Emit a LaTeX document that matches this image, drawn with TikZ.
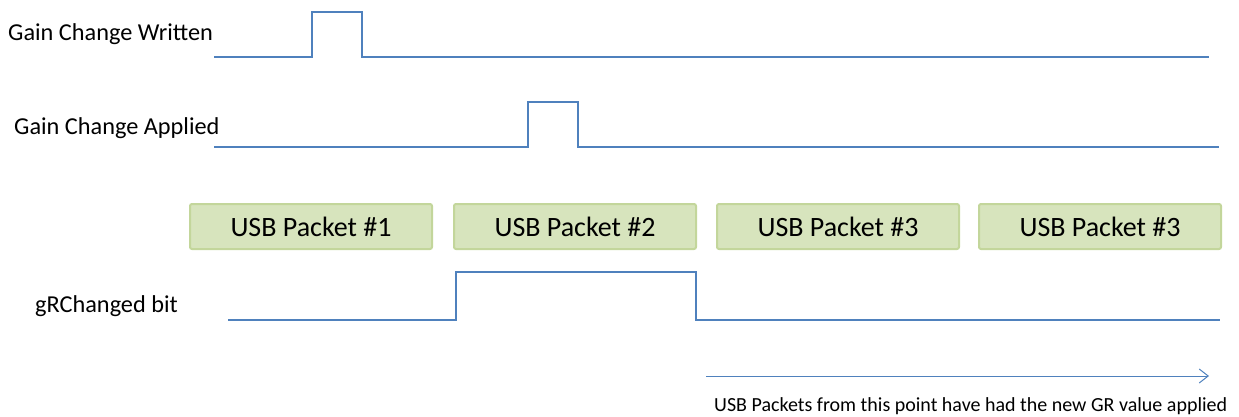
\documentclass[tikz,border=0pt]{standalone}
\usepackage{fontspec}
\setmainfont{Carlito}
\usetikzlibrary{arrows.meta}
\definecolor{sig}{HTML}{4F81BD}
\definecolor{pkfill}{HTML}{D7E4BD}
\definecolor{pkdraw}{HTML}{C3D69B}
\tikzset{
  signal/.style={draw=sig, line width=1.3pt},
  lbl/.style={anchor=west, inner sep=0pt, font=\fontsize{24.3}{28}\selectfont},
  packet/.style={fill=pkfill, draw=pkdraw, line width=2pt, rounded corners=2pt, minimum width=242pt, minimum height=45pt, inner sep=0pt, font=\fontsize{28}{32}\selectfont},
  note/.style={anchor=west, inner sep=0pt, font=\fontsize{20}{24}\selectfont}
}
\begin{document}
\begin{tikzpicture}[x=1pt,y=-1pt]
\useasboundingbox (0,0) rectangle (1239,417);
% labels
\node[lbl] (lw) at (8,34) {Gain Change Written};
\node[lbl] (la) at (14,128) {Gain Change Applied};
\node[lbl] (lg) at (35,306) {gRChanged bit};
% signal 1
\coordinate (w0) at (214,57);
\coordinate (w1) at (1209,57);
\draw[signal] (w0) -- (312,57) -- (312,12) -- (362,12) -- (362,57) -- (w1);
% signal 2
\coordinate (a0) at (214,147);
\coordinate (a1) at (1219,147);
\draw[signal] (a0) -- (528,147) -- (528,102) -- (578,102) -- (578,147) -- (a1);
% packets
\node[packet] (p1) at (311,226.5) {USB Packet \#1};
\node[packet] (p2) at (575,226.5) {USB Packet \#2};
\node[packet] (p3) at (838,226.5) {USB Packet \#3};
\node[packet] (p4) at (1100,226.5) {USB Packet \#3};
% signal 3
\coordinate (g0) at (228,320);
\coordinate (g1) at (1220,320);
\draw[signal] (g0) -- (456,320) -- (456,272) -- (696,272) -- (696,320) -- (g1);
% arrow
\coordinate (r0) at (706,376);
\coordinate (r1) at (1209,376);
\draw[signal, line width=1pt, -{Straight Barb[length=9pt,width=14pt]}] (r0) -- (r1);
\node[note] (nt) at (714,406) {USB Packets from this point have had the new GR value applied};
\end{tikzpicture}
\end{document}
